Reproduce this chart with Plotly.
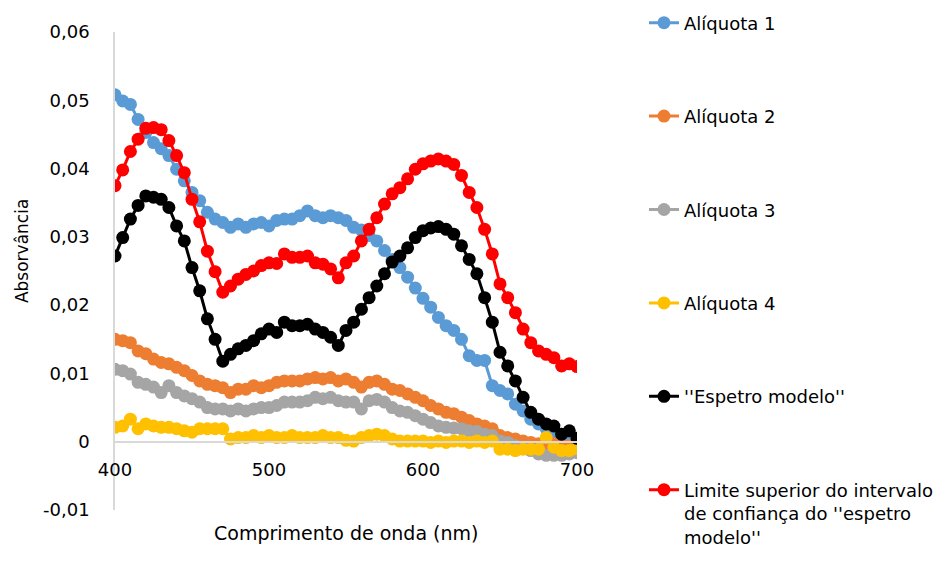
import plotly.graph_objects as go

# Wavelength grid (nm)
wavelength = list(range(400, 705, 5))

aliquota_1 = [
    0.0508, 0.0499, 0.0494, 0.0472, 0.0453, 0.0438, 0.0429, 0.0419, 0.0399, 0.0382,
    0.0365, 0.0353, 0.0336, 0.0326, 0.0321, 0.0314, 0.0319, 0.0314, 0.0319, 0.0321,
    0.0316, 0.0324, 0.0326, 0.0326, 0.0331, 0.0338, 0.0331, 0.0328, 0.0331, 0.0328,
    0.0324, 0.0314, 0.0310, 0.0302, 0.0294, 0.0280, 0.0267, 0.0255, 0.0241, 0.0225,
    0.0210, 0.0197, 0.0182, 0.0170, 0.0163, 0.0150, 0.0126, 0.0119, 0.0119, 0.0082,
    0.0075, 0.0070, 0.0055, 0.0045, 0.0033, 0.0026, 0.0019, 0.0014, 0.0011, 0.0008,
    -0.0008,
]
aliquota_2 = [
    0.0150, 0.0148, 0.0145, 0.0133, 0.0129, 0.0121, 0.0116, 0.0114, 0.0109, 0.0104,
    0.0097, 0.0089, 0.0084, 0.0082, 0.0079, 0.0072, 0.0077, 0.0077, 0.0082, 0.0079,
    0.0082, 0.0087, 0.0089, 0.0089, 0.0089, 0.0092, 0.0094, 0.0092, 0.0094, 0.0089,
    0.0092, 0.0087, 0.0080, 0.0087, 0.0089, 0.0084, 0.0077, 0.0075, 0.0070, 0.0065,
    0.0060, 0.0053, 0.0048, 0.0043, 0.0041, 0.0036, 0.0031, 0.0026, 0.0023, 0.0019,
    0.0009, 0.0006, 0.0004, 0.0001, -0.0001, -0.0003, -0.0003, -0.0003, -0.0005, -0.0006,
    -0.0008,
]
aliquota_3 = [
    0.0106, 0.0104, 0.0099, 0.0087, 0.0084, 0.0080, 0.0072, 0.0082, 0.0072, 0.0067,
    0.0063, 0.0058, 0.0050, 0.0048, 0.0048, 0.0045, 0.0048, 0.0045, 0.0048, 0.0050,
    0.0050, 0.0053, 0.0058, 0.0058, 0.0058, 0.0060, 0.0065, 0.0063, 0.0065, 0.0060,
    0.0058, 0.0058, 0.0048, 0.0060, 0.0062, 0.0058, 0.0050, 0.0045, 0.0043, 0.0038,
    0.0033, 0.0028, 0.0023, 0.0021, 0.0020, 0.0019, 0.0016, 0.0015, 0.0011, 0.0009,
    0.0001, -0.0001, -0.0006, -0.0008, -0.0013, -0.0018, -0.0020, -0.0020, -0.0020, -0.0018,
    -0.0016,
]
aliquota_4 = [
    0.0021, 0.0023, 0.0033, 0.0019, 0.0026, 0.0023, 0.0021, 0.0021, 0.0019, 0.0016,
    0.0014, 0.0019, 0.0019, 0.0019, 0.0019, 0.0004, 0.0006, 0.0006, 0.0009, 0.0006,
    0.0009, 0.0006, 0.0006, 0.0009, 0.0006, 0.0006, 0.0006, 0.0009, 0.0006, 0.0006,
    0.0002, 0.0001, 0.0006, 0.0009, 0.0011, 0.0009, 0.0004, 0.0001, 0.0001, 0.0001,
    0.0001, -0.0001, 0.0001, -0.0001, 0.0001, 0.0001, -0.0001, 0.0001, -0.0001, 0.0001,
    -0.0011, -0.0011, -0.0013, -0.0011, -0.0011, -0.0011, 0.0006, -0.0008, -0.0013, -0.0013,
    -0.0010,
]
espetro_modelo = [
    0.0272, 0.0299, 0.0326, 0.0346, 0.0360, 0.0358, 0.0355, 0.0343, 0.0316, 0.0294,
    0.0255, 0.0221, 0.0180, 0.0150, 0.0118, 0.0128, 0.0136, 0.0141, 0.0148, 0.0158,
    0.0165, 0.0160, 0.0175, 0.0170, 0.0170, 0.0172, 0.0165, 0.0160, 0.0153, 0.0141,
    0.0163, 0.0175, 0.0194, 0.0211, 0.0228, 0.0246, 0.0263, 0.0272, 0.0284, 0.0299,
    0.0309, 0.0313, 0.0315, 0.0311, 0.0304, 0.0287, 0.0267, 0.0246, 0.0211, 0.0175,
    0.0131, 0.0111, 0.0089, 0.0065, 0.0043, 0.0033, 0.0026, 0.0023, 0.0011, 0.0016,
    0.0005,
]
limite_superior = [
    0.0375, 0.0398, 0.0425, 0.0443, 0.0459, 0.0460, 0.0457, 0.0441, 0.0419, 0.0394,
    0.0355, 0.0322, 0.0279, 0.0249, 0.0219, 0.0228, 0.0238, 0.0245, 0.0250, 0.0258,
    0.0262, 0.0261, 0.0275, 0.0270, 0.0270, 0.0272, 0.0262, 0.0260, 0.0253, 0.0240,
    0.0262, 0.0272, 0.0294, 0.0311, 0.0328, 0.0348, 0.0363, 0.0372, 0.0385, 0.0399,
    0.0407, 0.0411, 0.0414, 0.0411, 0.0406, 0.0390, 0.0365, 0.0343, 0.0311, 0.0275,
    0.0231, 0.0211, 0.0189, 0.0165, 0.0145, 0.0133, 0.0128, 0.0123, 0.0111, 0.0114,
    0.0110,
]

series_names = [
    "Alíquota 1",
    "Alíquota 2",
    "Alíquota 3",
    "Alíquota 4",
    "''Espetro modelo''",
    "Limite superior do intervalo<br>de confiança do ''espetro<br>modelo''",
]
series_values = [aliquota_1, aliquota_2, aliquota_3, aliquota_4, espetro_modelo, limite_superior]
series_colors = ["#5B9BD5", "#ED7D31", "#A5A5A5", "#FFC000", "#000000", "#FF0000"]

y_tick_vals = [-0.01, 0, 0.01, 0.02, 0.03, 0.04, 0.05, 0.06]
y_tick_text = ["-0,01", "0", "0,01", "0,02", "0,03", "0,04", "0,05", "0,06"]
x_tick_vals = [400, 500, 600, 700]

FONT = "DejaVu Sans"

fig = go.Figure()
for i, (name, vals, col) in enumerate(zip(series_names, series_values, series_colors)):
    fig.add_trace(go.Scatter(
        x=wavelength, y=vals, name=name, mode="lines+markers",
        line=dict(color=col, width=3),
        marker=dict(color=col, size=13),
        legendgroup=f"g{i}",
        cliponaxis=True,
    ))

fig.update_layout(
    width=947, height=564,
    margin=dict(l=115, r=370, t=32, b=54, autoexpand=False),
    paper_bgcolor="white", plot_bgcolor="white",
    font=dict(family=FONT, size=18, color="#000000"),
    separators=",.",
    showlegend=True,
    legend=dict(
        x=1.145, xanchor="left", yref="container", y=0.992, yanchor="top",
        maxheight=700,
        font=dict(family=FONT, size=18, color="#000000"),
        tracegroupgap=67, valign="top",
        bgcolor="rgba(0,0,0,0)", borderwidth=0,
    ),
    xaxis=dict(
        range=[400, 700], tickvals=x_tick_vals, showgrid=False, zeroline=False,
        showline=True, linecolor="#D9D9D9", linewidth=1.5,
        anchor="free", position=1 / 7, ticklabelstandoff=12,
        tickfont=dict(family=FONT, size=18),
    ),
    yaxis=dict(
        range=[-0.01, 0.06], tickvals=y_tick_vals, ticktext=y_tick_text,
        showgrid=False, zeroline=False, showline=True, linecolor="#D9D9D9", linewidth=1.5,
        ticklabelstandoff=20, tickfont=dict(family=FONT, size=18),
    ),
    annotations=[
        dict(text="Comprimento de onda (nm)", xref="paper", yref="paper",
             x=0.5, y=-0.048, xanchor="center", yanchor="middle", showarrow=False,
             font=dict(family=FONT, size=19)),
        dict(text="Absorvância", xref="paper", yref="paper", textangle=-90,
             x=-0.201, y=0.542, xanchor="center", yanchor="middle", showarrow=False,
             font=dict(family=FONT, size=17)),
    ],
)

fig.write_html("out.html")
